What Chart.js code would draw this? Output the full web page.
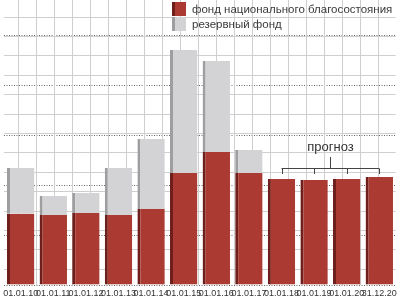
<!DOCTYPE html>
<html>
<head>
<meta charset="utf-8">
<script src="https://cdn.jsdelivr.net/npm/chart.js@4"></script>
<style>
  body { margin: 0; background: #fff; }
  #wrap { position: relative; width: 400px; height: 300px; }
  .legend { position: absolute; left: 172px; font: 11.5px "Liberation Sans", Arial, sans-serif; color: #3a3a3a; white-space: nowrap; }
  .legend span { display: inline-block; width: 14px; height: 14px; margin-right: 6px; vertical-align: -3px; border-left: 3px solid; box-sizing: border-box; }
</style>
</head>
<body>
<div id="wrap">
  <canvas id="fundChart" width="400" height="300"></canvas>
  <div class="legend" style="top:2px"><span style="background:#ab3a32;border-color:#6e1f1b"></span>фонд национального благосостояния</div>
  <div class="legend" style="top:17px"><span style="background:#d3d3d5;border-color:#9e9ea1"></span>резервный фонд</div>
</div>
<script>
// dates of the balances, trillion rubles
const labels = ['01.01.10', '01.01.11', '01.01.12', '01.01.13', '01.01.14', '01.01.15',
                '01.01.16', '01.01.17', '01.01.18', '01.01.19', '01.01.20', '31.12.20'];
const welfareFund = [2.85, 2.8, 2.88, 2.8, 3.04, 4.48, 5.32, 4.48, 4.24, 4.2, 4.24, 4.32];
const reserveFund = [1.83, 0.76, 0.8, 1.88, 2.8, 4.92, 3.64, 0.92, 0, 0, 0, 0];
const forecastFrom = 8;
const forecastLabel = 'прогноз';

const font = '"Liberation Sans", Arial, sans-serif';

// bracket over the forecast bars
const forecastBracket = {
  id: 'forecastBracket',
  afterDatasetsDraw(chart) {
    const { ctx, scales: { x, y } } = chart;
    const x0 = x.getPixelForValue(forecastFrom);
    const x1 = x.getPixelForValue(labels.length - 1);
    const yLine = Math.round(y.getPixelForValue(4.68)) + 0.5;
    const yTick = y.getPixelForValue(4.44);
    const yStem = y.getPixelForValue(5.12);
    const xm = Math.round((x0 + x1) / 2) + 0.5;
    ctx.save();
    ctx.strokeStyle = '#444';
    ctx.lineWidth = 1;
    ctx.beginPath();
    ctx.moveTo(x0, yLine); ctx.lineTo(x1, yLine);
    ctx.moveTo(xm, yLine); ctx.lineTo(xm, yStem);
    for (let i = forecastFrom; i < labels.length; i++) {
      const px = Math.round(x.getPixelForValue(i)) + 0.5;
      ctx.moveTo(px, yLine); ctx.lineTo(px, yTick);
    }
    ctx.stroke();
    ctx.fillStyle = '#333';
    ctx.font = '13px ' + font;
    ctx.textAlign = 'center';
    ctx.textBaseline = 'bottom';
    ctx.fillText(forecastLabel, xm, yStem - 3);
    ctx.restore();
  }
};

const ctx = document.getElementById('fundChart').getContext('2d');
new Chart(ctx, {
  type: 'bar',
  data: {
    labels: labels,
    datasets: [
      {
        label: 'фонд национального благосостояния',
        data: welfareFund,
        backgroundColor: '#ab3a32',
        borderColor: '#6e1f1b',
        borderWidth: { left: 3, right: 0, top: 0, bottom: 0 },
        borderSkipped: false,
      },
      {
        label: 'резервный фонд',
        data: reserveFund,
        backgroundColor: '#d3d3d5',
        borderColor: '#9e9ea1',
        borderWidth: { left: 3, right: 0, top: 0, bottom: 0 },
        borderSkipped: false,
      },
    ],
  },
  options: {
    responsive: false,
    animation: false,
    layout: { padding: 0, autoPadding: false },
    datasets: { bar: { categoryPercentage: 1, barPercentage: 0.84 } },
    plugins: {
      legend: { display: false },
      tooltip: { enabled: false },
    },
    scales: {
      x: {
        stacked: true,
        grid: { display: false, drawTicks: false },
        border: { display: false },
        ticks: { color: '#333', font: { family: font, size: 9 }, maxRotation: 0, autoSkip: false, padding: 3 },
        afterFit: s => { s.height = 15; },
      },
      y: {
        stacked: true,
        min: 0,
        max: 11.4,
        grid: { color: '#666', lineWidth: 1, drawTicks: false },
        border: { display: false, dash: [1, 1.5] },
        ticks: { display: false, stepSize: 2, includeBounds: false },
        afterFit: s => { s.width = 0; },
      },
      gx: {
        type: 'linear',
        axis: 'x',
        position: 'top',
        min: 0.28,
        max: 20.9,
        grid: { color: '#cfcfcf', drawTicks: false },
        border: { display: false },
        ticks: { display: false, stepSize: 1, includeBounds: false },
        afterFit: s => { s.height = 0; },
      },
      gy: {
        type: 'linear',
        axis: 'y',
        position: 'left',
        min: 0.19,
        max: 14.88,
        grid: { color: '#cfcfcf', drawTicks: false },
        border: { display: false },
        ticks: { display: false, stepSize: 1, includeBounds: false },
        afterFit: s => { s.width = 0; },
      },
    },
  },
  plugins: [forecastBracket],
});
</script>
</body>
</html>
